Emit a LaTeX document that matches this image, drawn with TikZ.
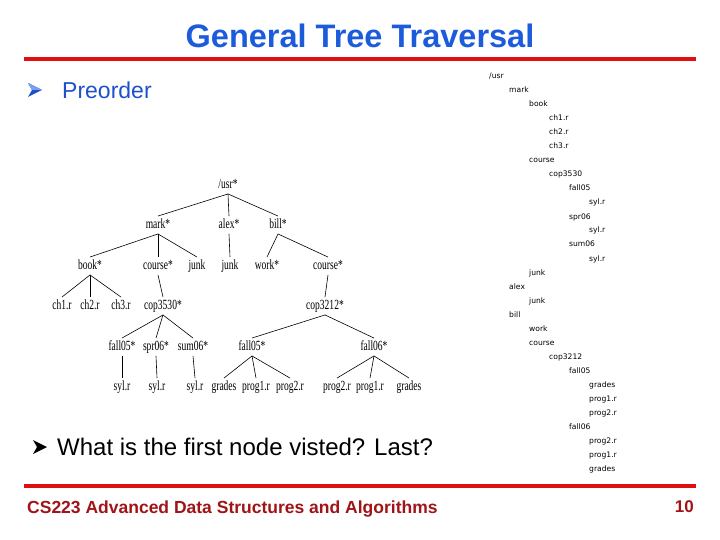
\documentclass[tikz,border=0pt]{standalone}
\usepackage{fontspec}
\setmainfont{Liberation Sans}
\newfontfamily\treefont[FakeStretch=0.68]{Liberation Serif}
\newfontfamily\listfont{DejaVu Sans}
\definecolor{titleblue}{RGB}{28,92,220}
\definecolor{bulletblue}{RGB}{30,80,205}
\definecolor{bulletlight}{RGB}{120,160,235}
\definecolor{linered}{RGB}{225,16,16}
\definecolor{footred}{RGB}{160,20,24}
\tikzset{
  tn/.style={font=\treefont\fontsize{14}{14}\selectfont, inner xsep=1pt, inner ysep=3pt, text height=9pt, text depth=2.5pt},
  te/.style={draw=black, line width=0.6pt},
  ls/.style={anchor=base west, inner sep=0pt, font=\listfont\fontsize{7.6}{10}\selectfont},
  redrule/.style={draw=linered, line width=4pt},
}
\begin{document}
\begin{tikzpicture}[x=1pt,y=-1pt]
\useasboundingbox[fill=white] (0,0) rectangle (720,540);
% title
\node[text=titleblue, font=\bfseries\fontsize{32.5}{36}\selectfont, inner sep=0pt] (title) at (360,35.5) {General Tree Traversal};
\coordinate (r1a) at (24,59); \coordinate (r1b) at (696,59);
\draw[redrule] (r1a) -- (r1b);
% bullets (arrowheads)
\fill[bulletblue] (28,83) -- (42,90) -- (28,97) -- (32,90) -- cycle;
\fill[bulletlight] (28,83) -- (42,90) -- (32,90) -- cycle;
\node[text=bulletblue, anchor=base west, inner sep=0pt, font=\fontsize{23}{26}\selectfont] (preorder) at (62,99) {Preorder};
\fill[black] (33,440) -- (47,447) -- (33,454) -- (37,447) -- cycle;
\node[text=black, anchor=base west, inner sep=0pt, font=\fontsize{24}{28}\selectfont] (question) at (57,455) {What is the first node visted? Last?};
% footer
\coordinate (r2a) at (24,486); \coordinate (r2b) at (696,486);
\draw[redrule] (r2a) -- (r2b);
\node[text=footred, anchor=base west, inner sep=0pt, font=\bfseries\fontsize{17.5}{20}\selectfont] (footer) at (27,513) {CS223 Advanced Data Structures and Algorithms};
\node[text=footred, anchor=base east, inner sep=0pt, font=\bfseries\fontsize{17}{20}\selectfont] (pagenum) at (694,512) {10};
% tree
\node[tn] (usr) at (228,185) {/usr*};
\node[tn] (mark) at (158,225) {mark*};
\node[tn] (alex) at (229,225) {alex*};
\node[tn] (bill) at (278,225) {bill*};
\node[tn] (book) at (90,266) {book*};
\node[tn] (coursea) at (158,266) {course*};
\node[tn] (junka) at (197,266) {junk};
\node[tn] (junkb) at (230,266) {junk};
\node[tn] (work) at (267,266) {work*};
\node[tn] (courseb) at (328,266) {course*};
\node[tn] (cha) at (62,306) {ch1.r};
\node[tn] (chb) at (90,306) {ch2.r};
\node[tn] (chc) at (121,306) {ch3.r};
\node[tn] (copa) at (163,306) {cop3530*};
\node[tn] (copb) at (325,306) {cop3212*};
\node[tn] (falla) at (122,347) {fall05*};
\node[tn] (spr) at (156,347) {spr06*};
\node[tn] (sum) at (193,347) {sum06*};
\node[tn] (fallb) at (252,347) {fall05*};
\node[tn] (fallc) at (374,347) {fall06*};
\node[tn] (syla) at (122,387) {syl.r};
\node[tn] (sylb) at (157,387) {syl.r};
\node[tn] (sylc) at (195,387) {syl.r};
\node[tn] (gradesa) at (224,387) {grades};
\node[tn] (proga) at (256,387) {prog1.r};
\node[tn] (progb) at (290,387) {prog2.r};
\node[tn] (progc) at (337,387) {prog2.r};
\node[tn] (progd) at (370,387) {prog1.r};
\node[tn] (gradesb) at (409,387) {grades};
\draw[te] (usr.south) -- (mark.north);
\draw[te] (usr.south) -- (alex.north);
\draw[te] (usr.south) -- (bill.north);
\draw[te] (mark.south) -- (book.north);
\draw[te] (mark.south) -- (coursea.north);
\draw[te] (mark.south) -- (junka.north);
\draw[te] (alex.south) -- (junkb.north);
\draw[te] (bill.south) -- (work.north);
\draw[te] (bill.south) -- (courseb.north);
\draw[te] (book.south) -- (cha.north);
\draw[te] (book.south) -- (chb.north);
\draw[te] (book.south) -- (chc.north);
\draw[te] (coursea.south) -- (copa.north);
\draw[te] (courseb.south) -- (copb.north);
\draw[te] (copa.south) -- (falla.north);
\draw[te] (copa.south) -- (spr.north);
\draw[te] (copa.south) -- (sum.north);
\draw[te] (copb.south) -- (fallb.north);
\draw[te] (copb.south) -- (fallc.north);
\draw[te] (falla.south) -- (syla.north);
\draw[te] (spr.south) -- (sylb.north);
\draw[te] (sum.south) -- (sylc.north);
\draw[te] (fallb.south) -- (gradesa.north);
\draw[te] (fallb.south) -- (proga.north);
\draw[te] (fallb.south) -- (progb.north);
\draw[te] (fallc.south) -- (progc.north);
\draw[te] (fallc.south) -- (progd.north);
\draw[te] (fallc.south) -- (gradesb.north);
% listing
\node[ls] (l01) at (489,79) {/usr};
\node[ls] (l02) at (509,93) {mark};
\node[ls] (l03) at (529,107) {book};
\node[ls] (l04) at (549,121) {ch1.r};
\node[ls] (l05) at (549,135) {ch2.r};
\node[ls] (l06) at (549,149) {ch3.r};
\node[ls] (l07) at (529,163) {course};
\node[ls] (l08) at (549,177) {cop3530};
\node[ls] (l09) at (569,191) {fall05};
\node[ls] (l10) at (589,205) {syl.r};
\node[ls] (l11) at (569,219) {spr06};
\node[ls] (l12) at (589,233) {syl.r};
\node[ls] (l13) at (569,247) {sum06};
\node[ls] (l14) at (589,261) {syl.r};
\node[ls] (l15) at (529,275) {junk};
\node[ls] (l16) at (509,289) {alex};
\node[ls] (l17) at (529,303) {junk};
\node[ls] (l18) at (509,317) {bill};
\node[ls] (l19) at (529,331) {work};
\node[ls] (l20) at (529,345) {course};
\node[ls] (l21) at (549,359) {cop3212};
\node[ls] (l22) at (569,373) {fall05};
\node[ls] (l23) at (589,387) {grades};
\node[ls] (l24) at (589,401) {prog1.r};
\node[ls] (l25) at (589,415) {prog2.r};
\node[ls] (l26) at (569,429) {fall06};
\node[ls] (l27) at (589,443) {prog2.r};
\node[ls] (l28) at (589,457) {prog1.r};
\node[ls] (l29) at (589,471) {grades};
\end{tikzpicture}
\end{document}
